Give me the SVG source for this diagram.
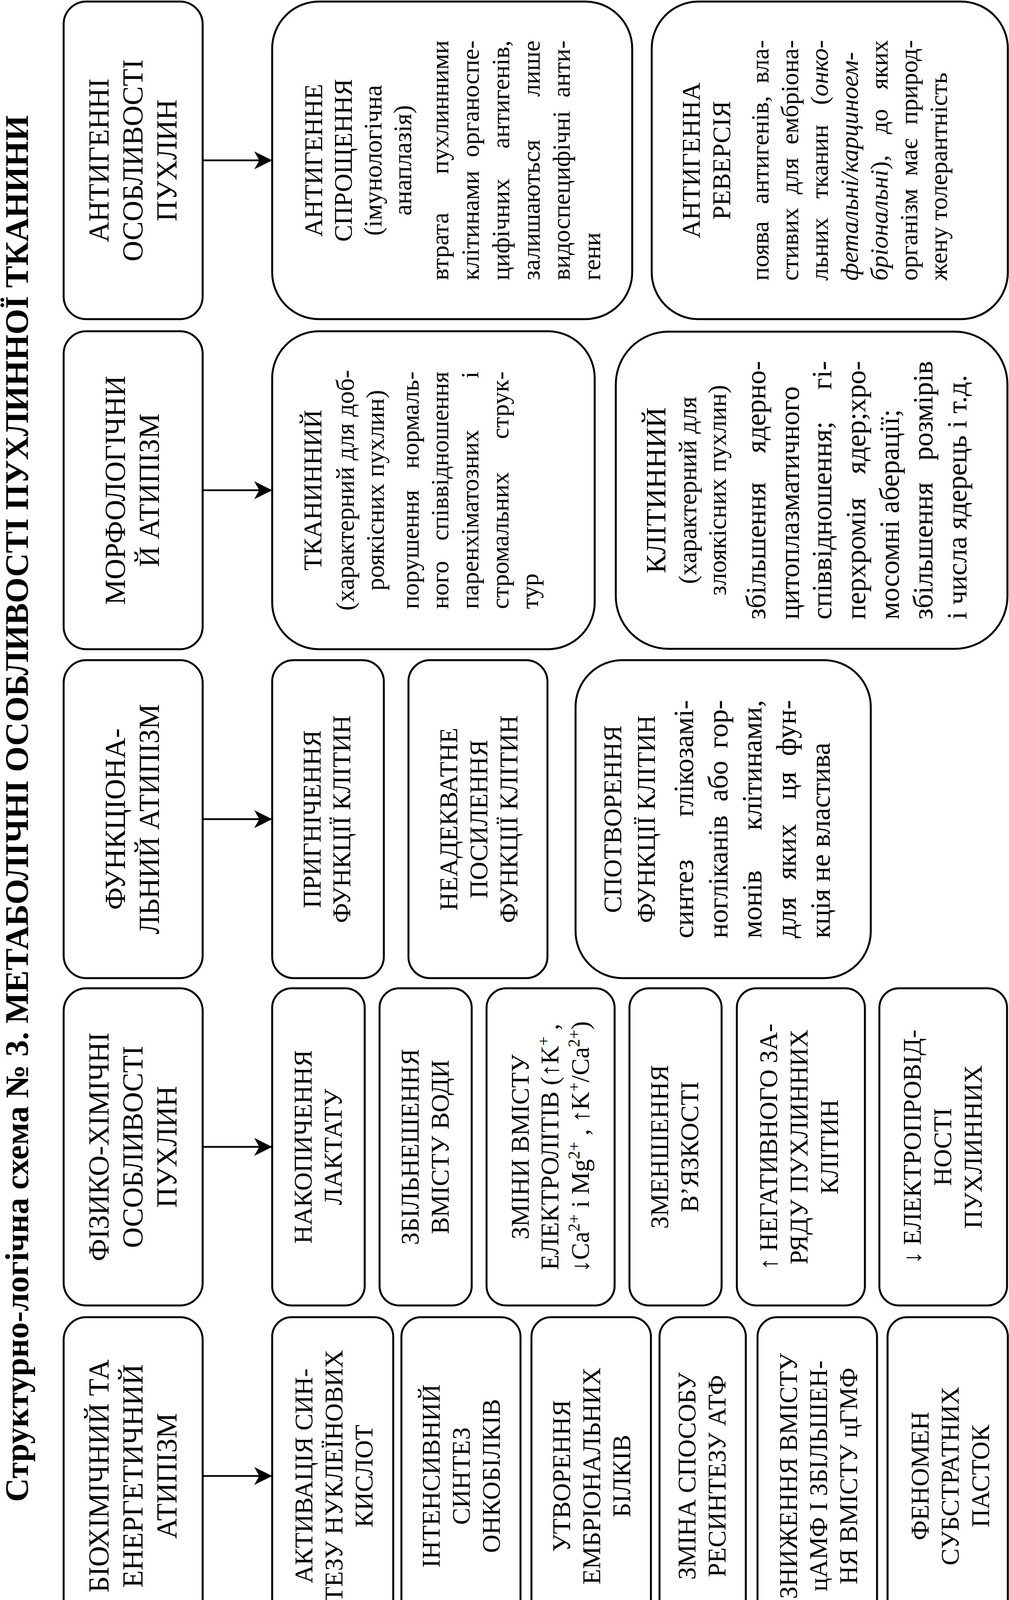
<svg xmlns="http://www.w3.org/2000/svg" width="2584" height="4190" viewBox="0 0 2584 4190">
<defs>
<style>
.b{fill:#fff;stroke:#000;stroke-width:5}
text{font-family:"Liberation Serif","Times New Roman","DejaVu Serif",serif;fill:#000}
.title{font-size:84px;font-weight:bold}
.h{font-size:73px;text-anchor:middle}
.c{font-size:65px;text-anchor:middle}
.w{font-size:64px}
.we{font-size:64px;text-anchor:end}
.W{font-size:72px}
.WE{font-size:72px;text-anchor:end}
.C{font-size:72px;text-anchor:middle}
.it{font-style:italic}
.sup{font-size:42px}
</style>
<marker id="ah" markerUnits="userSpaceOnUse" markerWidth="50" markerHeight="50" viewBox="-48 -25 50 50" refX="0" refY="0" orient="auto">
<path d="M0,0 L-46,-23 L-33,0 L-46,23 Z" fill="#000" stroke="none"/>
</marker>
</defs>
<rect width="2584" height="4190" fill="#fff"/>

<text class="title" transform="translate(72,3845) rotate(-90)" textLength="3550" lengthAdjust="spacingAndGlyphs">Структурно-логічна схема № 3. МЕТАБОЛІЧНІ ОСОБЛИВОСТІ ПУХЛИННОЇ ТКАНИНИ</text>

<!-- Headers -->
<g id="h-antigen">
<rect class="b" x="163" y="4" width="356" height="813" rx="58"/>
<g transform="translate(0,410.5) rotate(-90)">
<text class="h" y="278">АНТИГЕННІ</text>
<text class="h" y="365">ОСОБЛИВОСТІ</text>
<text class="h" y="452">ПУХЛИН</text>
</g>
</g>
<g id="h-morph">
<rect class="b" x="163" y="848" width="356" height="814" rx="58"/>
<g transform="translate(0,1255) rotate(-90)">
<text class="h" y="320">МОРФОЛОГІЧНИ</text>
<text class="h" y="407">Й АТИПІЗМ</text>
</g>
</g>
<g id="h-func">
<rect class="b" x="163" y="1690" width="356" height="814" rx="58"/>
<g transform="translate(0,2097) rotate(-90)">
<text class="h" y="320">ФУНКЦІОНА-</text>
<text class="h" y="407">ЛЬНИЙ АТИПІЗМ</text>
</g>
</g>
<g id="h-phys">
<rect class="b" x="163" y="2530" width="356" height="812" rx="58"/>
<g transform="translate(0,2936) rotate(-90)">
<text class="h" y="278">ФІЗИКО-ХІМІЧНІ</text>
<text class="h" y="365">ОСОБЛИВОСТІ</text>
<text class="h" y="452">ПУХЛИН</text>
</g>
</g>
<g id="h-bio">
<rect class="b" x="163" y="3372" width="356" height="813" rx="58"/>
<g transform="translate(0,3778.5) rotate(-90)">
<text class="h" y="278">БІОХІМІЧНИЙ ТА</text>
<text class="h" y="365">ЕНЕРГЕТИЧНИЙ</text>
<text class="h" y="452">АТИПІЗМ</text>
</g>
</g>

<!-- Antigen row -->
<g id="n-simplif">
<rect class="b" x="697" y="4" width="922" height="813" rx="120"/>
<g transform="translate(0,410.5) rotate(-90)">
<text class="c" y="825">АНТИГЕННЕ</text>
<text class="c" y="901">СПРОЩЕННЯ</text>
<text class="c" y="977">(імунологічна</text>
<text class="c" y="1053">анаплазія)</text>
<text class="w" x="-307" y="1148">втрата</text><text class="we" x="307" y="1148">пухлинними</text>
<text class="w" x="-307" y="1226">клітинами</text><text class="we" x="307" y="1226">органоспе-</text>
<text class="w" x="-307" y="1304">цифічних</text><text class="we" x="307" y="1304">антигенів,</text>
<text class="w" x="-307" y="1382">залишаються</text><text class="we" x="307" y="1382">лише</text>
<text class="w" x="-307" y="1459">видоспецифічні</text><text class="we" x="307" y="1459">анти-</text>
<text class="w" x="-307" y="1537">гени</text>
</g>
</g>
<g id="n-reversion">
<rect class="b" x="1669" y="4" width="912" height="813" rx="120"/>
<g transform="translate(0,410.5) rotate(-90)">
<text class="c" y="1792">АНТИГЕННА</text>
<text class="c" y="1870">РЕВЕРСІЯ</text>
<text class="w" x="-308" y="1968">поява</text><text class="w" x="-112" y="1968">антигенів,</text><text class="we" x="308" y="1968">вла-</text>
<text class="w" x="-308" y="2044">стивих</text><text class="w" x="-87" y="2044">для</text><text class="we" x="308" y="2044">ембріона-</text>
<text class="w" x="-308" y="2120">льних</text><text class="w" x="-98" y="2120">тканин</text><text class="we" x="308" y="2120">(<tspan class="it">онко-</tspan></text>
<text class="w it" x="-308" y="2197">фетальні/карциноем-</text>
<text class="w" x="-308" y="2273"><tspan class="it">бріональні</tspan>),</text><text class="w" x="67" y="2273">до</text><text class="we" x="308" y="2273">яких</text>
<text class="w" x="-308" y="2349">організм</text><text class="w" x="-40" y="2349">має</text><text class="we" x="308" y="2349">природ-</text>
<text class="w" x="-308" y="2425">жену толерантність</text>
</g>
</g>

<!-- Morph row -->
<g id="n-tissue">
<rect class="b" x="697" y="848" width="826" height="814" rx="120"/>
<g transform="translate(0,1255) rotate(-90)">
<text class="c" y="823">ТКАНИННИЙ</text>
<text class="c" y="906">(характерний для доб-</text>
<text class="c" y="983">роякісних пухлин)</text>
<text class="w" x="-304" y="1072">порушення</text><text class="we" x="304" y="1072">нормаль-</text>
<text class="w" x="-304" y="1148">ного</text><text class="we" x="304" y="1148">співвідношення</text>
<text class="w" x="-304" y="1225">паренхіматозних</text><text class="we" x="304" y="1225">і</text>
<text class="w" x="-304" y="1302">стромальних</text><text class="we" x="304" y="1302">струк-</text>
<text class="w" x="-304" y="1378">тур</text>
</g>
</g>
<g id="n-cell">
<rect class="b" x="1577" y="849" width="1003" height="812" rx="135"/>
<g transform="translate(0,1255) rotate(-90)">
<text class="C" y="1704">КЛІТИННИЙ</text>
<text class="c" y="1783">(характерний для</text>
<text class="c" y="1859">злоякісних пухлин)</text>
<text class="W" x="-331" y="1960">збільшення</text><text class="WE" x="331" y="1960">ядерно-</text>
<text class="W" x="-331" y="2046">цитоплазматичного</text>
<text class="W" x="-331" y="2129">співвідношення;</text><text class="WE" x="331" y="2129">гі-</text>
<text class="W" x="-331" y="2216">перхромія</text><text class="WE" x="331" y="2216">ядер;хро-</text>
<text class="W" x="-331" y="2302">мосомні аберації;</text>
<text class="W" x="-331" y="2388">збільшення</text><text class="WE" x="331" y="2388">розмірів</text>
<text class="W" x="-331" y="2475">і числа ядерець і т.д.</text>
</g>
</g>

<!-- Functional row -->
<g id="n-suppress">
<rect class="b" x="697" y="1690" width="286" height="814" rx="55"/>
<g transform="translate(0,2097) rotate(-90)">
<text class="c" y="821">ПРИГНІЧЕННЯ</text>
<text class="c" y="897">ФУНКЦІЇ КЛІТИН</text>
</g>
</g>
<g id="n-enhance">
<rect class="b" x="1046" y="1690" width="356" height="814" rx="55"/>
<g transform="translate(0,2097) rotate(-90)">
<text class="c" y="1171">НЕАДЕКВАТНЕ</text>
<text class="c" y="1248">ПОСИЛЕННЯ</text>
<text class="c" y="1325">ФУНКЦІЇ КЛІТИН</text>
</g>
</g>
<g id="n-distort">
<rect class="b" x="1474" y="1690" width="756" height="814" rx="120"/>
<g transform="translate(0,2097) rotate(-90)">
<text class="c" y="1591">СПОТВОРЕННЯ</text>
<text class="c" y="1677">ФУНКЦІЇ КЛІТИН</text>
<text class="W" x="-305" y="1775">синтез</text><text class="WE" x="305" y="1775">глікозамі-</text>
<text class="W" x="-305" y="1863">ногліканів</text><text class="W" x="45" y="1863">або</text><text class="WE" x="305" y="1863">гор-</text>
<text class="W" x="-305" y="1950">монів</text><text class="WE" x="305" y="1950">клітинами,</text>
<text class="W" x="-305" y="2038">для</text><text class="W" x="-155" y="2038">яких</text><text class="W" x="50" y="2038">ця</text><text class="WE" x="305" y="2038">фун-</text>
<text class="W" x="-305" y="2125">кція не властива</text>
</g>
</g>

<!-- Physico-chemical row -->
<g id="n-lactate">
<rect class="b" x="697" y="2530" width="237" height="812" rx="50"/>
<g transform="translate(0,2936) rotate(-90)">
<text class="c" y="798">НАКОПИЧЕННЯ</text>
<text class="c" y="875">ЛАКТАТУ</text>
</g>
</g>
<g id="n-water">
<rect class="b" x="972" y="2530" width="236" height="812" rx="50"/>
<g transform="translate(0,2936) rotate(-90)">
<text class="c" y="1072">ЗБІЛЬНЕШЕННЯ</text>
<text class="c" y="1149">ВМІСТУ ВОДИ</text>
</g>
</g>
<g id="n-electrolytes">
<rect class="b" x="1246" y="2530" width="328" height="812" rx="50"/>
<g transform="translate(0,2936) rotate(-90)">
<text class="c" y="1354">ЗМІНИ ВМІСТУ</text>
<text class="c" y="1430">ЕЛЕКТРОЛІТІВ (↑K<tspan class="sup" dy="-24">+</tspan><tspan dy="24"> ,</tspan></text>
<text class="c" y="1508">↓Ca<tspan class="sup" dy="-24">2+</tspan><tspan dy="24"> і Mg</tspan><tspan class="sup" dy="-24">2+</tspan><tspan dy="24"> , ↑K</tspan><tspan class="sup" dy="-24">+</tspan><tspan dy="24">/Ca</tspan><tspan class="sup" dy="-24">2+</tspan><tspan dy="24">)</tspan></text>
</g>
</g>
<g id="n-viscosity">
<rect class="b" x="1612" y="2530" width="236" height="812" rx="50"/>
<g transform="translate(0,2936) rotate(-90)">
<text class="c" y="1711">ЗМЕНШЕННЯ</text>
<text class="c" y="1788">В’ЯЗКОСТІ</text>
</g>
</g>
<g id="n-charge">
<rect class="b" x="1887" y="2530" width="328" height="812" rx="50"/>
<g transform="translate(0,2936) rotate(-90)">
<text class="c" y="1990">↑ НЕГАТИВНОГО ЗА-</text>
<text class="c" y="2068">РЯДУ ПУХЛИННИХ</text>
<text class="c" y="2146">КЛІТИН</text>
</g>
</g>
<g id="n-conduct">
<rect class="b" x="2252" y="2530" width="327" height="812" rx="50"/>
<g transform="translate(0,2936) rotate(-90)">
<text class="c" y="2358">↓ ЕЛЕКТРОПРОВІД-</text>
<text class="c" y="2436">НОСТІ</text>
<text class="c" y="2514">ПУХЛИННИХ</text>
</g>
</g>

<!-- Biochemical row -->
<g id="n-nucleic">
<rect class="b" x="697" y="3372" width="310" height="813" rx="50"/>
<g transform="translate(0,3778.5) rotate(-90)">
<text class="c" y="800">АКТИВАЦІЯ СИН-</text>
<text class="c" y="877">ТЕЗУ НУКЛЕЇНОВИХ</text>
<text class="c" y="954">КИСЛОТ</text>
</g>
</g>
<g id="n-oncoproteins">
<rect class="b" x="1028" y="3372" width="305" height="813" rx="50"/>
<g transform="translate(0,3778.5) rotate(-90)">
<text class="c" y="1126">ІНТЕНСИВНИЙ</text>
<text class="c" y="1203">СИНТЕЗ</text>
<text class="c" y="1280">ОНКОБІЛКІВ</text>
</g>
</g>
<g id="n-embryonic">
<rect class="b" x="1361" y="3372" width="306" height="813" rx="50"/>
<g transform="translate(0,3778.5) rotate(-90)">
<text class="c" y="1460">УТВОРЕННЯ</text>
<text class="c" y="1537">ЕМБРІОНАЛЬНИХ</text>
<text class="c" y="1614">БІЛКІВ</text>
</g>
</g>
<g id="n-atp">
<rect class="b" x="1689" y="3372" width="221" height="813" rx="50"/>
<g transform="translate(0,3778.5) rotate(-90)">
<text class="c" y="1781">ЗМІНА СПОСОБУ</text>
<text class="c" y="1858">РЕСИНТЕЗУ АТФ</text>
</g>
</g>
<g id="n-camp">
<rect class="b" x="1940" y="3372" width="306" height="813" rx="50"/>
<g transform="translate(0,3778.5) rotate(-90)">
<text class="c" y="2041">ЗНИЖЕННЯ ВМІСТУ</text>
<text class="c" y="2118">цАМФ І ЗБІЛЬШЕН-</text>
<text class="c" y="2195">НЯ ВМІСТУ цГМФ</text>
</g>
</g>
<g id="n-traps">
<rect class="b" x="2273" y="3372" width="308" height="813" rx="50"/>
<g transform="translate(0,3778.5) rotate(-90)">
<text class="c" y="2378">ФЕНОМЕН</text>
<text class="c" y="2455">СУБСТРАТНИХ</text>
<text class="c" y="2533">ПАСТОК</text>
</g>
</g>

<g id="connectors" fill="none" stroke="#000" stroke-width="4.5">
<line x1="519" y1="410.5" x2="697" y2="410.5" marker-end="url(#ah)"/>
<line x1="519" y1="1255" x2="697" y2="1255" marker-end="url(#ah)"/>
<line x1="519" y1="2097" x2="697" y2="2097" marker-end="url(#ah)"/>
<line x1="519" y1="2936" x2="697" y2="2936" marker-end="url(#ah)"/>
<line x1="519" y1="3778.5" x2="697" y2="3778.5" marker-end="url(#ah)"/>
</g>
</svg>
